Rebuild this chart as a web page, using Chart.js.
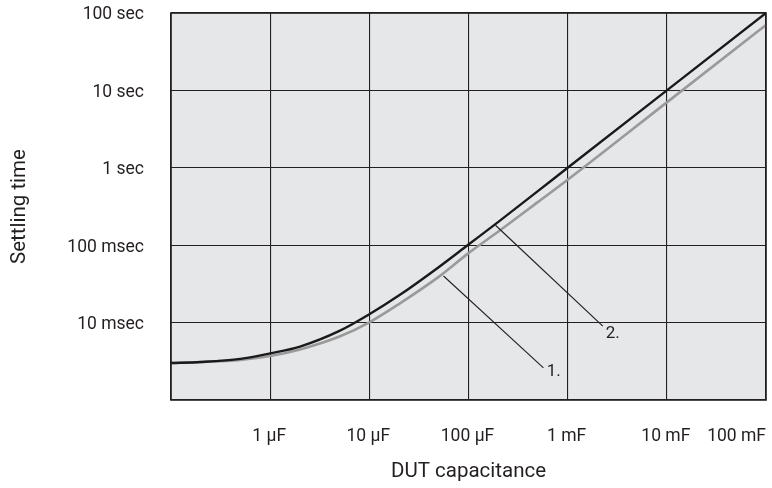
<!DOCTYPE html>
<html>
<head>
<meta charset="utf-8">
<script src="https://cdn.jsdelivr.net/npm/chart.js@4.4.1/dist/chart.umd.min.js"></script>
<style>
  body { margin: 0; background: #fff; }
  #wrap { width: 772px; height: 488px; }
</style>
</head>
<body>
<div id="wrap"><canvas id="chart"></canvas></div>
<script>
// Capacitance in farads, settling time in seconds
const capacitance = [1e-7, 2e-7, 5e-7, 1e-6, 2e-6, 5e-6, 1e-5, 2e-5, 5e-5, 1e-4, 2e-4, 5e-4, 1e-3, 1e-2, 1e-1];
const settlingTime2 = [0.0030, 0.0031, 0.0034, 0.0040, 0.0049, 0.0078, 0.0128, 0.0225, 0.052, 0.102, 0.20, 0.50, 1.0, 10, 100];
const settlingTime1 = [0.0030, 0.0031, 0.0033, 0.0037, 0.0045, 0.0066, 0.0101, 0.0175, 0.039, 0.079, 0.15, 0.36, 0.70, 7.0, 70];

const xTickValues = [1e-7, 1e-6, 1e-5, 1e-4, 1e-3, 1e-2, 1e-1];
const xTickLabels = ['', '1 µF', '10 µF', '100 µF', '1 mF', '10 mF', '100 mF'];
const yTickValues = [1e-3, 1e-2, 1e-1, 1, 10, 100];
const yTickLabels = ['', '10 msec', '100 msec', '1 sec', '10 sec', '100 sec'];

// callout leader lines (data coords): start on curve, end near label, label anchor
const calloutLabels = ['1.', '2.'];
const calloutFrom = [[5.6e-5, 0.040], [1.87e-4, 0.181]];
const calloutTo = [[5.7e-4, 0.0026], [2.26e-3, 0.0090]];
const calloutAt = [[6.14e-4, 0.0023], [2.42e-3, 0.0071]];

const FONT = "Roboto, 'Liberation Sans', sans-serif";
const INK = '#231f20';

function toPoints(xs, ys) {
    return xs.map((x, i) => ({ x: x, y: ys[i] }));
}

const plotDecor = {
    id: 'plotDecor',
    beforeDraw(chart) {
        const { ctx, chartArea: a } = chart;
        ctx.save();
        ctx.fillStyle = '#e6e7e8';
        ctx.fillRect(a.left, a.top, a.right - a.left, a.bottom - a.top);
        ctx.restore();
    },
    afterDatasetsDraw(chart) {
        const { ctx, chartArea: a } = chart;
        const xs = chart.scales.x, ys = chart.scales.y;
        ctx.save();
        // callouts
        ctx.strokeStyle = INK;
        ctx.lineWidth = 1.1;
        ctx.fillStyle = INK;
        ctx.font = '17px ' + FONT;
        ctx.textAlign = 'left';
        ctx.textBaseline = 'middle';
        calloutLabels.forEach((lab, i) => {
            const x0 = xs.getPixelForValue(calloutFrom[i][0]), y0 = ys.getPixelForValue(calloutFrom[i][1]);
            const x1 = xs.getPixelForValue(calloutTo[i][0]), y1 = ys.getPixelForValue(calloutTo[i][1]);
            ctx.beginPath();
            ctx.moveTo(x0, y0);
            ctx.lineTo(x1, y1);
            ctx.stroke();
            ctx.fillText(lab, xs.getPixelForValue(calloutAt[i][0]), ys.getPixelForValue(calloutAt[i][1]));
        });
        // frame
        ctx.lineWidth = 1.6;
        ctx.strokeRect(a.left, a.top, a.right - a.left, a.bottom - a.top);
        // tick labels
        ctx.font = '17.5px ' + FONT;
        ctx.textBaseline = 'middle';
        xTickValues.forEach((v, i) => {
            const lab = xTickLabels[i];
            if (!lab) return;
            const px = xs.getPixelForValue(v);
            const w = ctx.measureText(lab).width;
            if (px + w / 2 > a.right) {
                ctx.textAlign = 'right';
                ctx.fillText(lab, a.right, 437);
            } else {
                ctx.textAlign = 'center';
                ctx.fillText(lab, px - 1, 437);
            }
        });
        ctx.textAlign = 'right';
        yTickValues.forEach((v, i) => {
            const lab = yTickLabels[i];
            if (!lab) return;
            ctx.fillText(lab, a.left - 27, ys.getPixelForValue(v) + 2);
        });
        ctx.restore();
    }
};

new Chart(document.getElementById('chart'), {
    type: 'line',
    data: {
        datasets: [{
            label: '2.',
            data: toPoints(capacitance, settlingTime2),
            borderColor: '#1a1a1a',
            borderWidth: 2.4,
            pointRadius: 0,
            cubicInterpolationMode: 'monotone',
            fill: false
        }, {
            label: '1.',
            data: toPoints(capacitance, settlingTime1),
            borderColor: '#9a9a9a',
            borderWidth: 2.6,
            pointRadius: 0,
            cubicInterpolationMode: 'monotone',
            fill: false
        }]
    },
    plugins: [plotDecor],
    options: {
        responsive: true,
        maintainAspectRatio: false,
        animation: false,
        layout: { padding: { left: 0, top: 13, right: 6, bottom: 0 } },
        plugins: {
            legend: { display: false },
            tooltip: { enabled: false }
        },
        scales: {
            x: {
                type: 'logarithmic',
                min: 1e-7,
                max: 1e-1,
                afterBuildTicks: scale => { scale.ticks = xTickValues.map(v => ({ value: v })); },
                afterFit: scale => { scale.height = 88; },
                border: { display: false },
                grid: { color: INK, lineWidth: 1.1, drawTicks: false },
                ticks: { display: false },
                title: {
                    display: true,
                    text: 'DUT capacitance',
                    color: INK,
                    font: { family: FONT, size: 20.5 },
                    padding: { top: 0 }
                }
            },
            y: {
                type: 'logarithmic',
                min: 1e-3,
                max: 100,
                afterBuildTicks: scale => { scale.ticks = yTickValues.map(v => ({ value: v })); },
                afterFit: scale => { scale.width = 171; },
                border: { display: false },
                grid: { color: INK, lineWidth: 1.1, drawTicks: false },
                ticks: { display: false },
                title: {
                    display: true,
                    text: 'Settling time',
                    color: INK,
                    font: { family: FONT, size: 20.5 },
                    padding: { top: 8 }
                }
            }
        }
    }
});
</script>
</body>
</html>
